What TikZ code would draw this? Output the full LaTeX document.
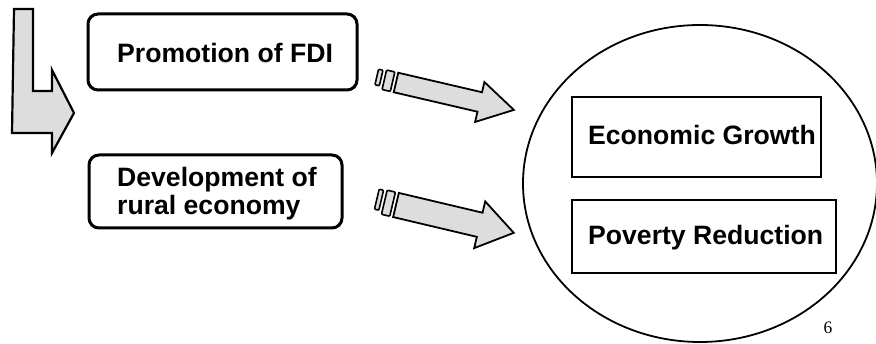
\documentclass[tikz,border=0pt]{standalone}
\usepackage{fontspec}
\setmainfont{Liberation Sans}
\newfontfamily\serifsix{Liberation Serif}
\usetikzlibrary{shapes.geometric}
\definecolor{arrowgrey}{RGB}{221,221,221}
\tikzset{
  lbl/.style={anchor=base west, inner sep=0pt, font=\bfseries\fontsize{26.6}{28}\selectfont},
  roundbox/.style={draw, line width=3pt, rounded corners=10pt, minimum width=#1, inner sep=0pt},
  sharpbox/.style={draw, line width=1.5pt, inner sep=0pt},
  goalellipse/.style={draw, ellipse, line width=1.8pt, inner sep=0pt, minimum width=354pt, minimum height=317pt},
  fatarrow/.style={draw, fill=arrowgrey, line width=1.8pt, line join=miter},
  stripe/.style={draw, fill=arrowgrey, line width=1.6pt, rounded corners=1pt},
}
\begin{document}
\begin{tikzpicture}[x=1pt,y=-1pt]
\useasboundingbox (0,0) rectangle (876,344);

% L-shaped arrow
\draw[fatarrow, line width=2.2pt] (14,9) -- (33,9) -- (33,91) -- (52,91) -- (52,70)
  -- (74,113) -- (52,153) -- (52,133) -- (12,133) -- cycle;

% left boxes
\node[roundbox=269pt, minimum height=76pt] (fdibox) at (222.5,52) {};
\node[lbl] (fdi) at (117,63) {Promotion of FDI};
\node[roundbox=253pt, minimum height=73pt] (rurbox) at (215.5,191.5) {};
\node[lbl] (rur1) at (117,187) {Development of};
\node[lbl] (rur2) at (117,215) {rural economy};

% goal ellipse and boxes
\node[goalellipse] (goal) at (700,183.5) {};
\node[sharpbox, minimum width=249pt, minimum height=80pt] (egbox) at (696.5,137) {};
\node[lbl] (eg) at (588,145) {Economic Growth};
\node[sharpbox, minimum width=264pt, minimum height=73pt] (prbox) at (704,236.5) {};
\node[lbl] (pr) at (588,245) {Poverty Reduction};

\node[anchor=base west, inner sep=0pt, font=\serifsix\fontsize{17.5}{17.5}\selectfont] (pg) at (823.5,333.5) {6};

% striped arrows
\coordinate (a1) at (396,82.5);
\coordinate (a2) at (396,205);
\begin{scope}[shift={(a1)}, rotate=-13.1]
  \draw[stripe] (-20,-9) rectangle (-15.5,7);
  \draw[stripe] (-12,-10) rectangle (-3.5,10);
  \draw[fatarrow] (0,-10) -- (86,-10) -- (86,-20.5) -- (121,0) -- (86,20.5) -- (86,10) -- (0,10) -- cycle;
\end{scope}
\begin{scope}[shift={(a2)}, rotate=-13.3]
  \draw[stripe] (-20,-11.5) rectangle (-15.5,9);
  \draw[stripe] (-12,-12.4) rectangle (-3.5,12.4);
  \draw[fatarrow] (0,-12.4) -- (86,-12.4) -- (86,-24) -- (121,0) -- (86,24) -- (86,12.4) -- (0,12.4) -- cycle;
\end{scope}
\end{tikzpicture}
\end{document}
